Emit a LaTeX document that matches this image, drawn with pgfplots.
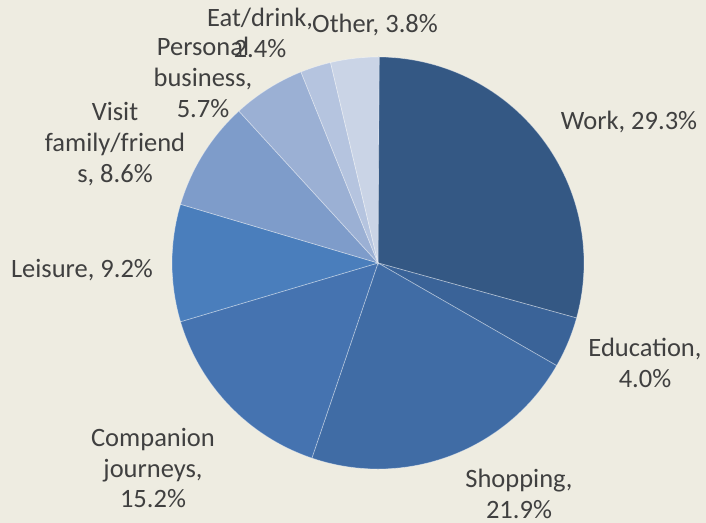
\documentclass[border=0pt]{standalone}
\usepackage{pgfplots}
\usepackage{pgfplotstable}
\pgfplotsset{compat=1.18}
\usepackage{fontspec}
\setmainfont{Carlito}
\definecolor{bgcol}{HTML}{EEECE1}
\definecolor{txt}{HTML}{404040}
\definecolor{c0}{HTML}{345884}
\definecolor{c1}{HTML}{3A6398}
\definecolor{c2}{HTML}{406CA5}
\definecolor{c3}{HTML}{4573B0}
\definecolor{c4}{HTML}{4A7EBC}
\definecolor{c5}{HTML}{7E9CCA}
\definecolor{c6}{HTML}{9BB0D4}
\definecolor{c7}{HTML}{B5C4DF}
\definecolor{c8}{HTML}{CAD4E6}
\pgfplotstableread[col sep=comma]{
label,value
Work,29.3
Education,4.0
Shopping,21.9
Companion journeys,15.2
Leisure,9.2
Visit family/friends,8.6
Personal business,5.7
Eat/drink,2.4
Other,3.8
}\piedata
\tikzset{lbl/.style={font=\fontsize{13.25}{15.3}\selectfont, text=txt, align=center, inner sep=0pt}}
\begin{document}
\begin{tikzpicture}
\begin{axis}[
  name=ax,
  x=0.5pt, y=0.5pt,
  xmin=0, xmax=706, ymin=0, ymax=523,
  hide axis, clip=false,
]
\fill[bgcol] (rel axis cs:0,0) rectangle (rel axis cs:1,1);
\pgfmathsetmacro\cum{90}
\pgfplotsforeachungrouped \i in {0,...,8}{%
  \pgfplotstablegetelem{\i}{value}\of\piedata
  \let\v\pgfplotsretval
  \pgfmathsetmacro\a{\cum}%
  \pgfmathsetmacro\b{\cum-3.6*\v}%
  \edef\tmp{\noexpand\fill[c\i, draw=white, draw opacity=0.4, line width=0.35pt] (axis cs:378,260) -- ++(\a:103pt) arc[start angle=\a, end angle=\b, radius=103pt] -- cycle;}%
  \tmp
  \let\cum\b
}
\node[lbl] at (axis cs:629,401) {Work, 29.3\%};
\node[lbl] at (axis cs:645,160) {Education,\\4.0\%};
\node[lbl] at (axis cs:519,29) {Shopping,\\21.9\%};
\node[lbl] at (axis cs:153,55) {Companion\\journeys,\\15.2\%};
\node[lbl] at (axis cs:82,253) {Leisure, 9.2\%};
\node[lbl] at (axis cs:115,379) {Visit\\family/friend\\s, 8.6\%};
\node[lbl] at (axis cs:203,445.5) {Personal\\business,\\5.7\%};
\node[lbl] at (axis cs:260,490) {Eat/drink,\\2.4\%};
\node[lbl] at (axis cs:375,498) {Other, 3.8\%};
\end{axis}
\pgfresetboundingbox
\path[use as bounding box] (ax.south west) rectangle (ax.north east);
\end{tikzpicture}
\end{document}
